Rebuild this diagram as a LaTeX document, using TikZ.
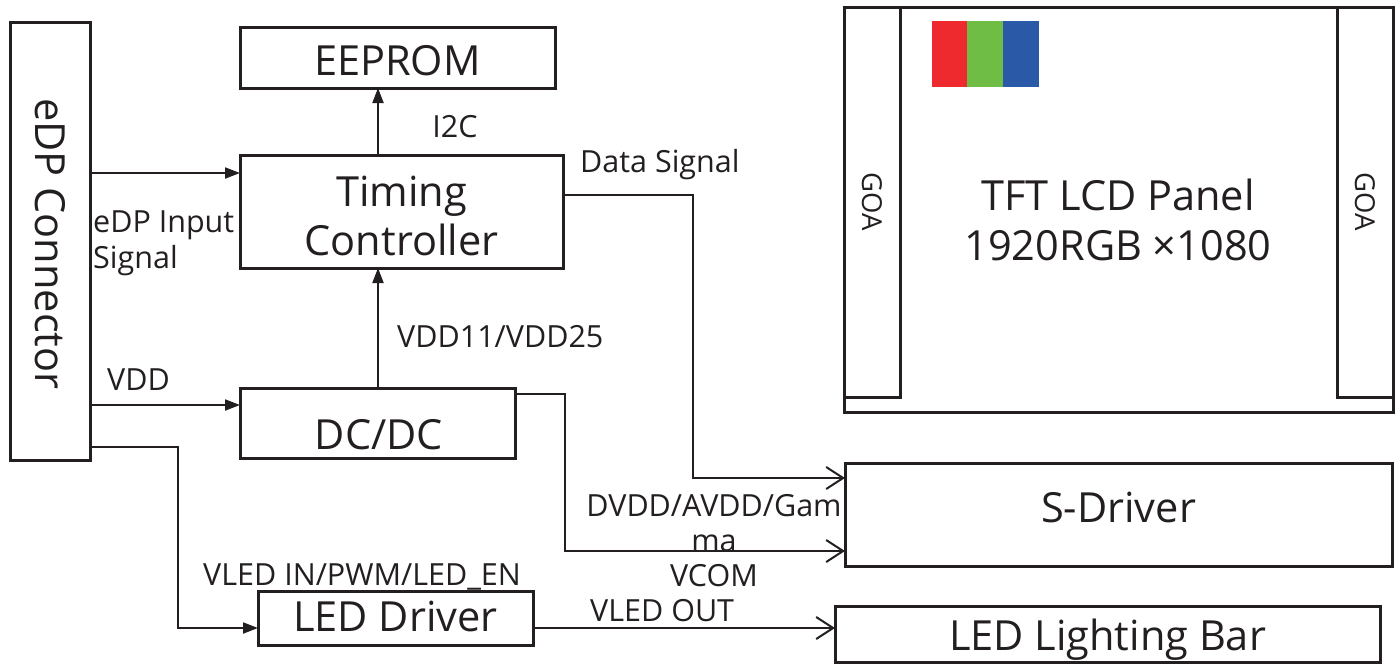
\documentclass[tikz,border=0pt]{standalone}
\usepackage{fontspec}
\setmainfont{Open Sans}
\usetikzlibrary{arrows.meta}
\definecolor{ink}{HTML}{231F20}
\definecolor{rr}{HTML}{EE2A2E}
\definecolor{gg}{HTML}{6FBD44}
\definecolor{bb}{HTML}{2A5AA7}
\tikzset{
  blk/.style={draw=ink, line width=3pt, rectangle, inner sep=0pt, outer sep=0pt},
  txt/.style={text=ink, inner sep=0pt, anchor=base, font=\fontsize{41.5}{50}\selectfont},
  lbl/.style={text=ink, inner sep=0pt, font=\fontsize{30.5}{36}\selectfont},
  wire/.style={draw=ink, line width=2pt},
  fa/.style={wire, -{Triangle[length=15pt,width=11pt]}},
  oa/.style={wire, -{Straight Barb[length=17pt,width=22pt,line width=2pt]}},
}
\begin{document}
\begin{tikzpicture}[x=1pt,y=-1pt]
\useasboundingbox (0,0) rectangle (1400,664);
% blocks
\node[blk, minimum width=80pt, minimum height=438pt] (edp) at (50,241) {};
\node[text=ink, rotate=-90, font=\fontsize{41.5}{50}\selectfont] (edpt) at (50,244) {eDP Connector};
\node[blk, minimum width=315pt, minimum height=61pt] (eeprom) at (397.5,57.5) {};
\node[txt] (eepromt) at (397.5,75) {EEPROM};
\node[blk, minimum width=323pt, minimum height=113pt] (tc) at (401.5,211.5) {};
\node[txt] (tct1) at (401.5,206) {Timing};
\node[txt] (tct2) at (401.5,255) {Controller};
\node[blk, minimum width=275pt, minimum height=70pt] (dcdc) at (377.5,423) {};
\node[txt] (dcdct) at (379,449) {DC/DC};
\node[blk, minimum width=547pt, minimum height=103pt] (sdrv) at (1118.5,514.5) {};
\node[txt] (sdrvt) at (1118.5,522) {S-Driver};
\node[blk, minimum width=275pt, minimum height=54pt] (ledd) at (395.5,618) {};
\node[txt] (leddt) at (395.5,631) {LED Driver};
\node[blk, minimum width=545pt, minimum height=56pt] (ledbar) at (1107.5,634) {};
\node[txt] (ledbart) at (1107.5,650) {LED Lighting Bar};
% panel
\node[blk, minimum width=549pt, minimum height=405pt] (panel) at (1118.5,209.5) {};
\node[blk, minimum width=56pt, minimum height=390pt] (goal) at (872,202) {};
\node[blk, minimum width=56pt, minimum height=390pt] (goar) at (1365,202) {};
\node[text=ink, rotate=-90, font=\fontsize{27.5}{33}\selectfont] (goalt) at (872,202) {GOA};
\node[text=ink, rotate=-90, font=\fontsize{27.5}{33}\selectfont] (goart) at (1365,202) {GOA};
\node[txt] (tft1) at (1118,210) {TFT LCD Panel};
\node[txt] (tft2) at (1118,260) {1920RGB ×1080};
\fill[rr] (932,21) rectangle (967,87);
\fill[gg] (967,21) rectangle (1003,87);
\fill[bb] (1003,21) rectangle (1039,87);
% coordinates
\coordinate (vx) at (378,0);
\coordinate (e1) at (90,173);
\coordinate (e2) at (90,405);
\coordinate (e3) at (90,447);
\coordinate (e3b) at (178,447);
\coordinate (ds) at (563,195);
\coordinate (dsb) at (693,195);
\coordinate (dsy) at (0,478);
\coordinate (dv) at (515,394);
\coordinate (dvb) at (565,394);
\coordinate (dvy) at (0,551);
\coordinate (ly) at (0,628);
% connectors
\draw[fa] (e1) -- (e1 -| tc.west);
\draw[fa] (tc.north -| vx) -- (eeprom.south -| vx);
\draw[fa] (dcdc.north -| vx) -- (tc.south -| vx);
\draw[fa] (e2) -- (e2 -| dcdc.west);
\draw[fa] (e3) -- (e3b) -- (e3b |- ly) -- (ledd.west |- ly);
\draw[oa] (ds) -- (dsb) -- (dsb |- dsy) -- (sdrv.west |- dsy);
\draw[oa] (dv) -- (dvb) -- (dvb |- dvy) -- (sdrv.west |- dvy);
\draw[oa] (ledd.east |- ly) -- (ledbar.west |- ly);
% labels
\node[lbl, anchor=center] (l1) at (455,127) {I2C};
\node[lbl, anchor=north west, align=left] (l2) at (93,211) {eDP Input\\Signal};
\node[lbl, anchor=west] (l3) at (580,165) {Data Signal};
\node[lbl, anchor=west] (l4) at (397,337) {VDD11/VDD25};
\node[lbl, anchor=west] (l5) at (107,380) {VDD};
\node[lbl, anchor=west] (l6) at (203,577) {VLED IN/PWM/LED\_EN};
\node[lbl, align=center, font=\fontsize{30.5}{35}\selectfont] (l7) at (714,541) {DVDD/AVDD/Gam\\ma\\VCOM};
\node[lbl, anchor=west] (l8) at (590,611) {VLED OUT};
\end{tikzpicture}
\end{document}
